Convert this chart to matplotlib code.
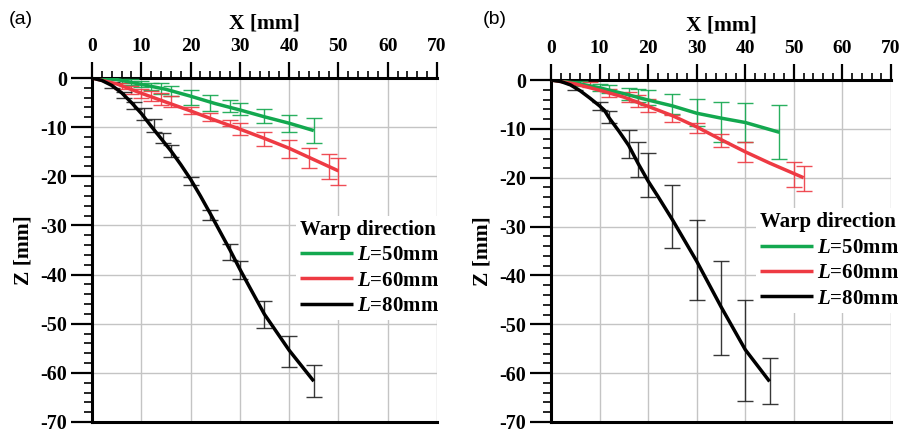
import matplotlib
matplotlib.use('Agg')
import matplotlib.pyplot as plt
from matplotlib.ticker import MultipleLocator

plt.rcParams['font.family'] = 'Liberation Serif'
plt.rcParams['font.weight'] = 'bold'
plt.rcParams['axes.unicode_minus'] = False
plt.rcParams['mathtext.fontset'] = 'custom'
plt.rcParams['mathtext.it'] = 'Liberation Serif:italic:bold'
plt.rcParams['mathtext.rm'] = 'Liberation Serif:bold'

series_labels = ['$L$=50mm', '$L$=60mm', '$L$=80mm']
series_colors = ['#13a84f', '#ee3a43', '#000000']
xticks = [0, 10, 20, 30, 40, 50, 60, 70]
yticks = [0, -10, -20, -30, -40, -50, -60, -70]

# ---------------- panel (a) ----------------
a_x50 = [0, 5, 10, 15, 20, 25, 30, 35, 40, 45]
a_z50 = [0, -0.3, -1.3, -2.3, -3.7, -5.2, -6.5, -7.9, -9.2, -10.7]
a_x60 = [0, 5, 10, 15, 20, 25, 30, 35, 40, 45, 50]
a_z60 = [0, -1.2, -3.1, -4.9, -6.7, -8.6, -10.4, -12.3, -14.3, -16.6, -18.9]
a_x80 = [0, 2, 4, 6, 8, 10, 12, 14, 16, 18, 20, 22, 24, 26, 28, 30, 32, 35, 40, 45]
a_z80 = [0, -0.5, -1.5, -3.0, -5.0, -7.2, -9.8, -12.3, -14.8, -17.6, -20.6, -24.0, -27.6, -31.3, -35.0, -38.9, -42.6, -48.1, -55.4, -61.7]

a_ex50 = [6, 8, 10, 12, 14, 16, 20, 24, 28, 30, 35, 40, 45]
a_top50 = [-0.2, -0.3, -0.6, -1.1, -1.0, -1.6, -2.5, -3.4, -4.5, -5.1, -6.3, -7.5, -8.1]
a_bot50 = [-1.0, -1.4, -1.8, -2.4, -3.2, -3.6, -5.4, -6.8, -7.0, -7.5, -9.2, -11.0, -13.2]
a_ex60 = [6, 8, 10, 12, 14, 16, 20, 24, 28, 30, 35, 40, 44, 48, 50]
a_top60 = [-1.0, -1.6, -2.2, -2.6, -3.0, -3.6, -5.8, -7.1, -8.5, -9.2, -10.9, -12.6, -14.2, -15.5, -16.3]
a_bot60 = [-2.2, -3.2, -4.0, -4.6, -5.4, -6.0, -7.3, -8.8, -9.8, -11.5, -13.8, -16.2, -18.4, -20.5, -21.7]
a_ex80 = [4, 6.5, 8.5, 10.5, 12.5, 14.5, 16, 20, 24, 28, 30, 35, 40, 45]
a_top80 = [-0.8, -2.8, -4.8, -6.1, -8.4, -11.1, -13.7, -20.2, -26.9, -33.7, -37.3, -45.4, -52.4, -58.4]
a_bot80 = [-2.0, -4.1, -6.3, -8.6, -11.0, -13.3, -16.0, -21.8, -28.8, -37.0, -41.0, -50.8, -58.9, -65.0]

# ---------------- panel (b) ----------------
b_x50 = [0, 5, 10, 15, 20, 25, 30, 35, 40, 47]
b_z50 = [0, -0.6, -1.6, -2.8, -4.1, -5.3, -6.8, -7.8, -8.7, -10.7]
b_x60 = [0, 5, 10, 15, 20, 25, 30, 35, 40, 45, 52]
b_z60 = [0, -0.8, -2.1, -3.5, -5.4, -7.3, -9.6, -12.2, -14.7, -17.0, -20.0]
b_x80 = [0, 2, 4, 6, 8, 10, 11, 12, 14, 16, 18, 20, 22, 25, 30, 35, 40, 45]
b_z80 = [0, -0.3, -1.0, -2.2, -3.7, -5.3, -6.2, -7.8, -10.5, -13.4, -17.2, -20.7, -23.8, -28.6, -37.1, -46.4, -55.2, -61.7]

b_ex50 = [6, 10, 12, 16, 18, 20, 25, 30, 35, 40, 47]
b_top50 = [-0.3, -0.8, -1.1, -1.7, -1.9, -2.0, -2.8, -3.9, -4.5, -4.8, -5.1]
b_bot50 = [-1.2, -2.2, -2.6, -4.1, -4.6, -5.2, -7.0, -9.5, -12.6, -12.7, -16.1]
b_ex60 = [8, 12, 16, 18, 20, 25, 30, 35, 40, 50, 52]
b_top60 = [-0.5, -1.8, -2.5, -3.0, -3.8, -7.1, -8.9, -11.1, -12.6, -16.7, -17.6]
b_bot60 = [-1.5, -3.4, -4.5, -5.5, -6.5, -8.5, -10.8, -13.8, -16.7, -21.8, -22.7]
b_ex80 = [5, 10, 12, 16, 18, 20, 25, 30, 35, 40, 45]
b_top80 = [-0.8, -4.6, -6.3, -10.2, -12.6, -15.0, -21.5, -28.7, -37.0, -45.0, -57.0]
b_bot80 = [-2.0, -6.2, -8.9, -15.9, -19.8, -23.9, -34.4, -45.1, -56.2, -65.7, -66.3]

panels = [
    dict(lines=[(a_x50, a_z50), (a_x60, a_z60), (a_x80, a_z80)],
         bars=[(a_ex50, a_top50, a_bot50), (a_ex60, a_top60, a_bot60), (a_ex80, a_top80, a_bot80)],
         rect=[92 / 903, 11 / 433, 345 / 903, 344 / 433], tag='(a)', tagx=9 / 903,
         leg=(0.59, 0.60)),
    dict(lines=[(b_x50, b_z50), (b_x60, b_z60), (b_x80, b_z80)],
         bars=[(b_ex50, b_top50, b_bot50), (b_ex60, b_top60, b_bot60), (b_ex80, b_top80, b_bot80)],
         rect=[551 / 903, 11 / 433, 340 / 903, 342 / 433], tag='(b)', tagx=483 / 903,
         leg=(0.603, 0.625)),
]

fig = plt.figure(figsize=(9.03, 4.33), dpi=100)
for p in panels:
    ax = fig.add_axes(p['rect'])
    handles = []
    for (ex, top, bot), col in zip(p['bars'], series_colors):
        ctr = [(t + b) / 2 for t, b in zip(top, bot)]
        err = [(t - b) / 2 for t, b in zip(top, bot)]
        ecol = '#222222' if col == '#000000' else col
        ax.errorbar(ex, ctr, yerr=err, fmt='none', ecolor=ecol, elinewidth=1.0,
                    capsize=6, capthick=1.0, alpha=0.9, zorder=3)
    for (lx, lz), col, lab in zip(p['lines'], series_colors, series_labels):
        h, = ax.plot(lx, lz, color=col, lw=2.5, label=lab, zorder=4,
                     solid_capstyle='butt')
        handles.append(h)
    ax.set_xlim(0, 70)
    ax.set_ylim(-70, 0)
    ax.xaxis.tick_top()
    ax.xaxis.set_label_position('top')
    ax.set_xticks(xticks)
    ax.set_yticks(yticks)
    ax.set_yticklabels([str(v) for v in yticks])
    ax.xaxis.set_minor_locator(MultipleLocator(2))
    ax.yaxis.set_minor_locator(MultipleLocator(2))
    ax.tick_params(axis='x', which='major', direction='out', length=11.5, width=1.6,
                   labelsize=14, pad=5)
    ax.tick_params(axis='y', which='major', direction='out', length=15, width=1.6,
                   labelsize=14.5, pad=3)
    ax.tick_params(axis='x', which='minor', direction='out', length=5, width=1.2)
    ax.tick_params(axis='y', which='minor', direction='out', length=6, width=1.2)
    ax.tick_params(axis='x', which='both', top=True, bottom=False)
    ax.tick_params(axis='y', which='both', left=True, right=False)
    for lbl in ax.get_xticklabels() + ax.get_yticklabels():
        lbl.set_fontweight('bold')
    for s in ['left', 'top', 'bottom']:
        ax.spines[s].set_linewidth(2.2)
    ax.spines['right'].set_visible(False)
    ax.grid(True, which='major', color='#c4c4c4', lw=1.0, zorder=0)
    ax.set_axisbelow(True)
    ax.set_xlabel('X [mm]', fontsize=15.5, fontweight='bold', labelpad=7)
    ax.set_ylabel('Z [mm]', fontsize=15.5, fontweight='bold', labelpad=5)
    leg = ax.legend(handles=handles, title='Warp direction', loc='upper left',
                    bbox_to_anchor=p['leg'], frameon=True, facecolor='white',
                    edgecolor='none', framealpha=1.0, fancybox=False,
                    prop={'family': 'Liberation Serif', 'weight': 'bold', 'size': 15},
                    title_fontproperties={'family': 'Liberation Serif', 'weight': 'bold', 'size': 15},
                    handlelength=2.55, handletextpad=0.2, labelspacing=0.26,
                    borderpad=0.2, borderaxespad=0.0, alignment='left')
    leg.set_zorder(5)
    fig.text(p['tagx'], 0.956, p['tag'], fontsize=14, fontweight='normal',
             family='Liberation Sans', ha='left', va='center')

fig.savefig('out.png', dpi=100)
